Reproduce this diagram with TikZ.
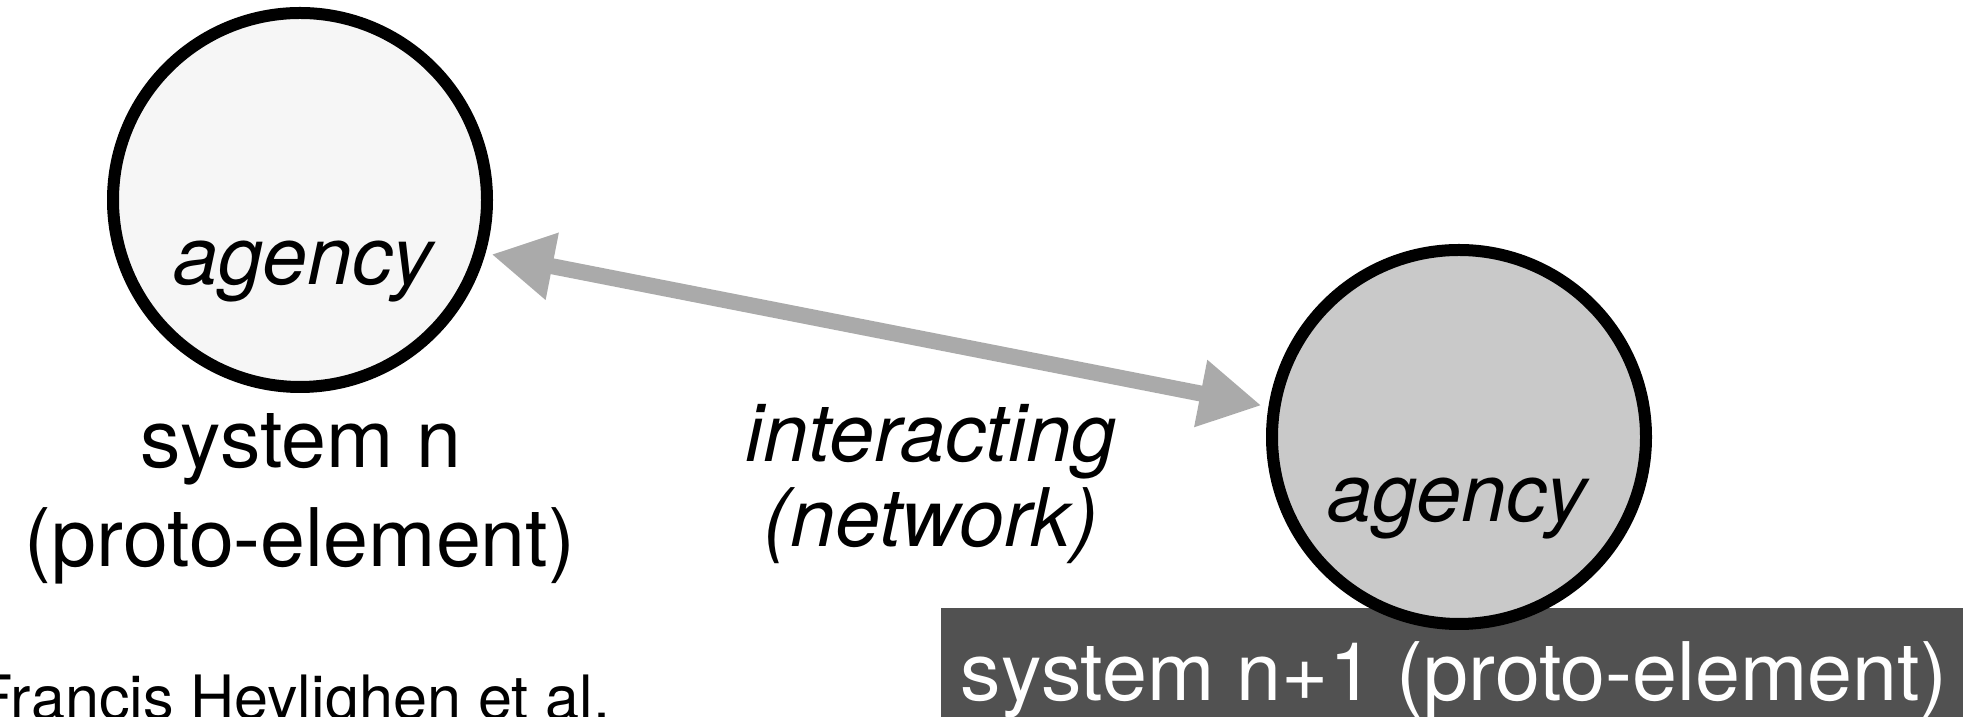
\documentclass[tikz,border=0pt]{standalone}
\usepackage{fontspec}
\setmainfont{TeX Gyre Heros}
\usetikzlibrary{arrows.meta}
\definecolor{agentlight}{HTML}{F6F6F6}
\definecolor{agentmid}{HTML}{C9C9C9}
\definecolor{linkgray}{HTML}{AAAAAA}
\definecolor{banddark}{HTML}{515151}
\def\colleft{3.00}
\def\colmid{9.31}
\def\colright{14.59}

\begin{document}
\begin{tikzpicture}[
		font=\fontsize{23}{27}\selectfont,
		agent/.style={draw,circle,line width=1.2mm,minimum size=3.74cm,inner sep=0pt},
		word/.style={inner sep=0pt,anchor=base},
		em/.style={word,font=\fontsize{23}{27}\selectfont\itshape},
		link/.style={{Triangle[length=6.2mm,width=6.4mm]}-{Triangle[length=6.2mm,width=6.4mm]},
			line width=1.6mm,draw=linkgray,shorten <=0.6mm,shorten >=0.7mm},
		band/.style={fill=banddark,anchor=north west,minimum width=10.4cm,minimum height=1.2cm,
			inner sep=0pt},
		credit/.style={inner sep=0pt,anchor=base west,font=\fontsize{17.4}{20}\selectfont}]
	
	\useasboundingbox (0,0) rectangle (19.63,-7.17);
	
	% ============ dark band, bottom right ============
	\node[band] (band) at (9.40,-6.07) {};
	\node[word,text=white] (bandtxt) at (14.54,-7.01) {system n+1 (proto-element)};
	
	% ============ the two systems ============
	\node[agent,fill=agentlight] (sysn) at (\colleft,-2.00) {};
	\node[agent,fill=agentmid] (sysm) at (\colright,-4.37) {};
	\node[em] (agn) at (3.03,-2.85) {agency};
	\node[em] (agm) at (14.57,-5.22) {agency};
	
	% label under system n
	\node[word] (namen) at (3.01,-4.68) {system n};
	\node[word] (kindn) at (\colleft,-5.67) {(proto-element)};
	
	% ============ interaction between them ============
	\draw[link] (sysn.-16) -- (sysm.171);
	\node[em] (inter) at (\colmid,-4.62) {interacting};
	\node[em] (net) at (\colmid,-5.47) {(network)};
	
	\node[credit] (credit) at (-0.25,-7.20) {Francis Heylighen et al.};
	
\end{tikzpicture}
\end{document}
